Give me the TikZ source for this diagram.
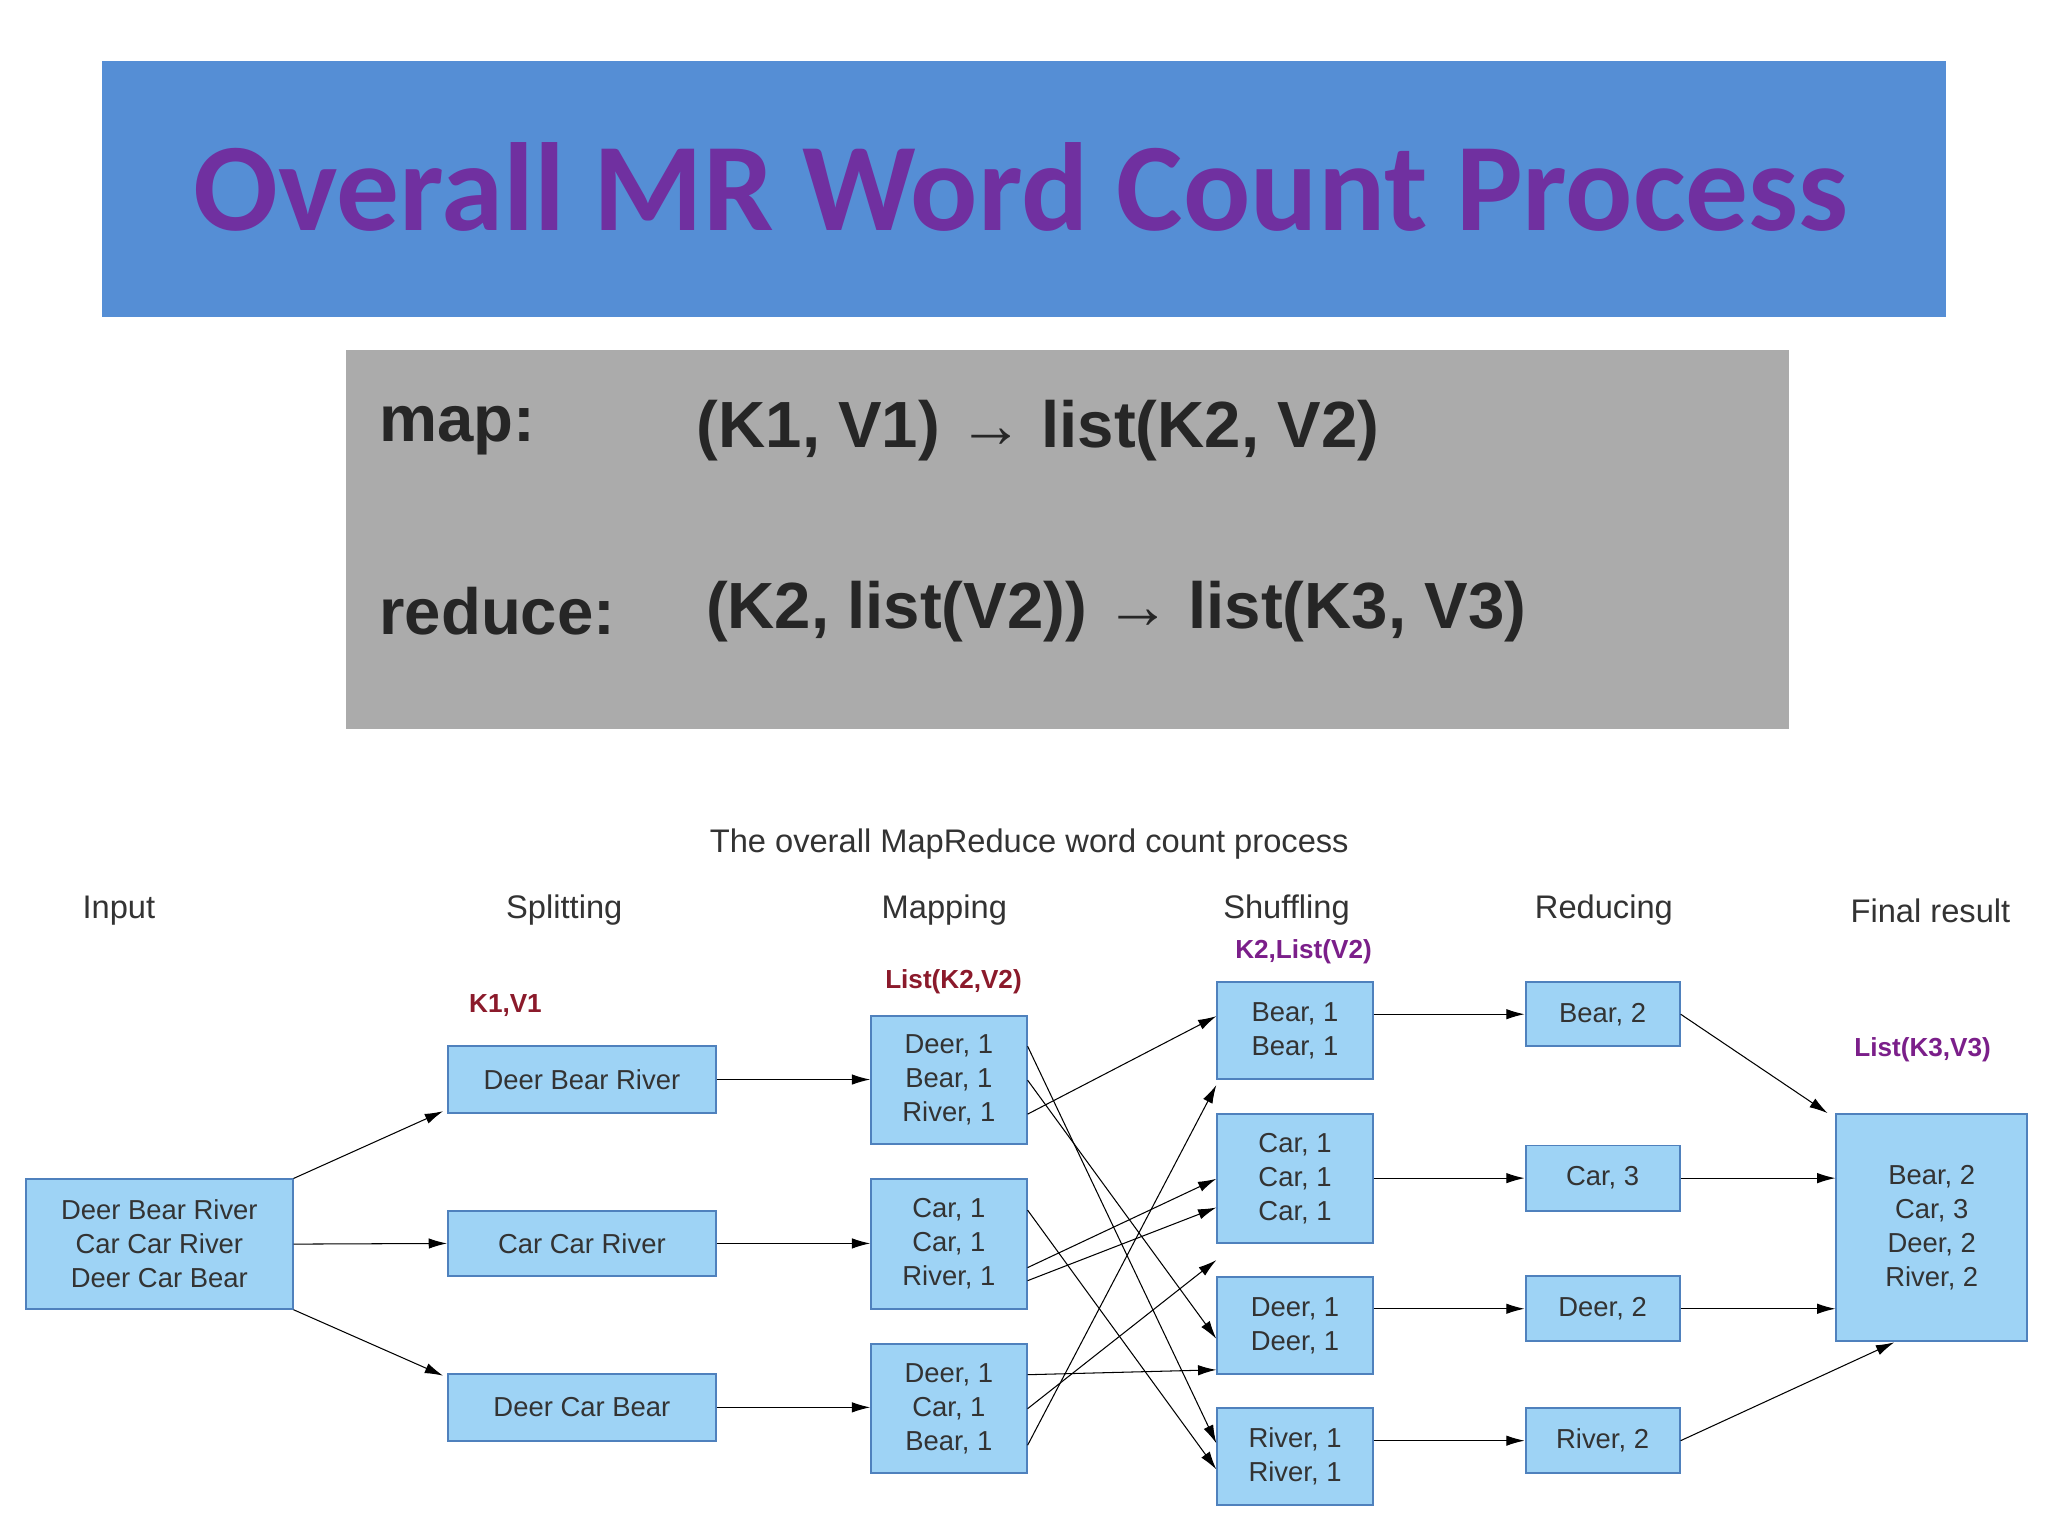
\documentclass[tikz,border=0pt]{standalone}
\usepackage{fontspec}
\setmainfont{Liberation Sans}
\newfontfamily\titlefont{Carlito}
\usetikzlibrary{arrows.meta}
\definecolor{titleblue}{HTML}{558ED5}
\definecolor{titlepurple}{HTML}{7030A0}
\definecolor{graybox}{HTML}{ABABAB}
\definecolor{boxfill}{HTML}{9ED3F5}
\definecolor{boxline}{HTML}{4F81BD}
\definecolor{kred}{HTML}{8B1A2B}
\definecolor{kpurple}{HTML}{7B1F8A}
\begin{document}
\begin{tikzpicture}[x=1pt,y=-1pt,
  bx/.style={draw=boxline,line width=1.5pt,fill=boxfill,align=center,inner sep=0pt,font=\fontsize{21}{26}\selectfont,text=black!80},
  hdr/.style={font=\fontsize{25}{30}\selectfont,text=black!80},
  lab/.style={font=\fontsize{20}{24}\selectfont\bfseries},
  arr/.style={-{Latex[length=14pt,width=8pt]},line width=0.8pt}]
\useasboundingbox (0,0) rectangle (1568,1176);
\fill[white] (0,0) rectangle (1568,1176);
% title
\node[fill=titleblue,minimum width=1412pt,minimum height=196pt,inner sep=0pt] (title) at (784,145) {};
\node[text=titlepurple,font=\titlefont\fontsize{96}{110}\selectfont\bfseries] (tt) at (782,143) {Overall MR Word Count Process};
% gray box
\node[fill=graybox,minimum width=1105pt,minimum height=290pt,inner sep=0pt] (gb) at (817.5,413) {};
\node[anchor=west,font=\fontsize{50}{60}\selectfont\bfseries,text=black!85] (m1) at (287,330) {map:};
\node[anchor=west,font=\fontsize{50}{60}\selectfont\bfseries,text=black!85] (m2) at (530,330) {(K1, V1) → list(K2, V2)};
\node[anchor=west,font=\fontsize{50}{60}\selectfont\bfseries,text=black!85] (r1) at (287,468) {reduce:};
\node[anchor=west,font=\fontsize{50}{60}\selectfont\bfseries,text=black!85] (r2) at (537,468) {(K2, list(V2)) → list(K3, V3)};
% caption and headers
\node[hdr] (cap) at (788,646) {The overall MapReduce word count process};
\node[hdr] (h1) at (91,697) {Input};
\node[hdr] (h2) at (432,697) {Splitting};
\node[hdr] (h3) at (723,697) {Mapping};
\node[hdr] (h4) at (985,697) {Shuffling};
\node[hdr] (h5) at (1228,697) {Reducing};
\node[hdr] (h6) at (1478,697) {Final result};
\node[lab,text=kred] (l1) at (387,770) {K1,V1};
\node[lab,text=kred] (l2) at (730,752) {List(K2,V2)};
\node[lab,text=kpurple] (l3) at (998,729) {K2,List(V2)};
\node[lab,text=kpurple] (l4) at (1472,804) {List(K3,V3)};
% boxes
\node[bx,minimum width=204pt,minimum height=99pt] (in) at (122,952.5) {Deer Bear River\\Car Car River\\Deer Car Bear};
\node[bx,minimum width=205pt,minimum height=51pt] (s1) at (445.5,826.5) {Deer Bear River};
\node[bx,minimum width=205pt,minimum height=50pt] (s2) at (445.5,952) {Car Car River};
\node[bx,minimum width=205pt,minimum height=51pt] (s3) at (445.5,1077.5) {Deer Car Bear};
\node[bx,minimum width=119pt,minimum height=98pt] (p1) at (726.5,827) {Deer, 1\\Bear, 1\\River, 1};
\node[bx,minimum width=119pt,minimum height=99pt] (p2) at (726.5,952.5) {Car, 1\\Car, 1\\River, 1};
\node[bx,minimum width=119pt,minimum height=99pt] (p3) at (726.5,1078.5) {Deer, 1\\Car, 1\\Bear, 1};
\node[bx,minimum width=119pt,minimum height=74pt] (q1) at (991.5,789) {Bear, 1\\Bear, 1};
\node[bx,minimum width=119pt,minimum height=99pt] (q2) at (991.5,902.5) {Car, 1\\Car, 1\\Car, 1};
\node[bx,minimum width=119pt,minimum height=74pt] (q3) at (991.5,1015) {Deer, 1\\Deer, 1};
\node[bx,minimum width=119pt,minimum height=74pt] (q4) at (991.5,1115) {River, 1\\River, 1};
\node[bx,minimum width=118pt,minimum height=49pt] (r1b) at (1227,776.5) {Bear, 2};
\node[bx,minimum width=118pt,minimum height=50pt] (r2b) at (1227,902) {Car, 3};
\node[bx,minimum width=118pt,minimum height=50pt] (r3b) at (1227,1002) {Deer, 2};
\node[bx,minimum width=118pt,minimum height=50pt] (r4b) at (1227,1103) {River, 2};
\node[bx,minimum width=146pt,minimum height=174pt] (fin) at (1479,940) {Bear, 2\\Car, 3\\Deer, 2\\River, 2};
% arrows input->split
\draw[arr] (in.north east) -- ([xshift=-3pt,yshift=2pt]s1.south west);
\draw[arr] (in.east) -- (s2.west);
\draw[arr] (in.south east) -- ([xshift=-3pt,yshift=-2pt]s3.north west);
% split->map
\draw[arr] (s1.east) -- (p1.west |- s1.east);
\draw[arr] (s2.east) -- (p2.west |- s2.east);
\draw[arr] (s3.east) -- (p3.west |- s3.east);
% map->shuffle
\draw[arr] ([yshift=-26pt]p1.east) -- ([yshift=11pt]q1.west);
\draw[arr] ([yshift=0pt]p1.east) -- ([yshift=-10pt]q3.west);
\draw[arr] ([yshift=26pt]p1.east) -- ([yshift=10pt]q4.west);
\draw[arr] ([yshift=-28pt]p2.east) -- ([yshift=-22pt]q2.west);
\draw[arr] ([yshift=-18pt]p2.east) -- ([yshift=0pt]q2.west);
\draw[arr] ([yshift=26pt]p2.east) -- ([yshift=-10pt]q4.west);
\draw[arr] ([yshift=-28pt]p3.east) -- ([yshift=-4pt]q1.south west);
\draw[arr] ([yshift=0pt]p3.east) -- ([yshift=-12pt]q2.south west);
\draw[arr] ([yshift=26pt]p3.east) -- ([yshift=4pt]q3.south west);
% shuffle->reduce
\draw[arr] (q1.east |- r1b.west) -- (r1b.west);
\draw[arr] (q2.east |- r2b.west) -- (r2b.west);
\draw[arr] (q3.east |- r3b.west) -- (r3b.west);
\draw[arr] (q4.east |- r4b.west) -- (r4b.west);
% reduce->final
\draw[arr] (r1b.east) -- ([xshift=-6pt]fin.north west);
\draw[arr] (r2b.east) -- (fin.west |- r2b.east);
\draw[arr] (r3b.east) -- (fin.west |- r3b.east);
\draw[arr] (r4b.east) -- ([xshift=45pt]fin.south west);
\end{tikzpicture}
\end{document}
